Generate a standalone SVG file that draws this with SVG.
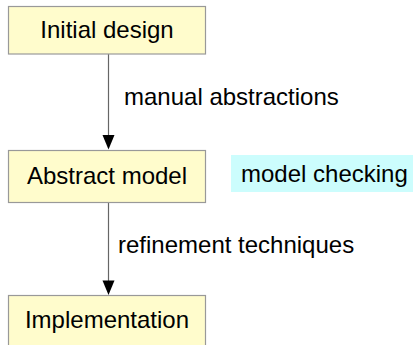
<svg xmlns="http://www.w3.org/2000/svg" width="413" height="345" viewBox="0 0 413 345">
  <style>
    .box { fill: #fffccc; stroke: #999999; stroke-width: 1.2; }
    .hl { fill: #ccfdfd; }
    .t { font-family: "Liberation Sans", Arial, sans-serif; font-size: 24px; fill: #000; }
    .mid { text-anchor: middle; }
    .edge { stroke: #666666; stroke-width: 1.2; fill: none; }
  </style>
  <defs>
    <!-- downward arrowhead, tip at the origin -->
    <path id="head" d="M-6,-14.5 L6,-14.5 L0,0 Z" fill="#000"/>
  </defs>
  <rect width="413" height="345" fill="#ffffff"/>

  <g id="connectors">
    <line class="edge" x1="108.5" y1="54" x2="108.5" y2="136"/>
    <use href="#head" x="108.5" y="149.5"/>
    <line class="edge" x1="108.5" y1="203" x2="108.5" y2="282"/>
    <use href="#head" x="108.5" y="295"/>
  </g>

  <g id="initial-design">
    <rect class="box" x="8.5" y="6.5" width="197" height="47.5"/>
    <text class="t mid" x="107" y="38">Initial design</text>
  </g>

  <g id="abstract-model">
    <rect class="box" x="8.5" y="150.5" width="197" height="52"/>
    <text class="t mid" x="107" y="184">Abstract model</text>
  </g>

  <g id="implementation">
    <rect class="box" x="8.5" y="295.5" width="197" height="60"/>
    <text class="t mid" x="107" y="328">Implementation</text>
  </g>

  <g id="model-checking">
    <rect class="hl" x="231" y="155" width="190" height="37"/>
    <text class="t" x="241" y="182">model checking</text>
  </g>

  <g id="edge-labels">
    <text class="t" x="124" y="105">manual abstractions</text>
    <text class="t" x="118" y="253">refinement techniques</text>
  </g>
</svg>
